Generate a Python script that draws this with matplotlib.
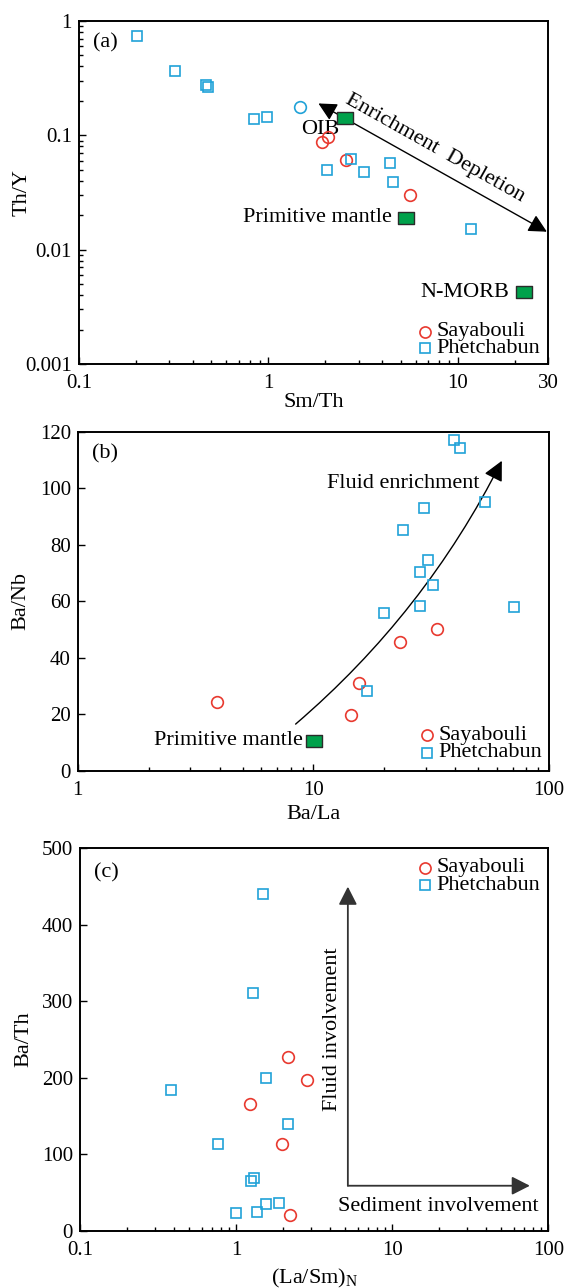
import numpy as np
import matplotlib
matplotlib.use("Agg")
import matplotlib.pyplot as plt
from matplotlib.path import Path


### Fonts ###
plt.rcParams['font.family'] = ['Liberation Serif', 'DejaVu Serif']
plt.rcParams['mathtext.fontset'] = 'custom'
plt.rcParams['mathtext.rm'] = 'Liberation Serif'


### Data ###
# (a) Sm/Th vs Th/Y
a_say_x = [1.92, 2.06, 2.58, 5.58]
a_say_y = [0.087, 0.096, 0.061, 0.030]
a_phe_x = [0.203, 0.322, 0.469, 0.482, 0.843, 0.981, 2.75, 2.03, 3.21, 4.38, 4.53, 11.7]
a_phe_y = [0.739, 0.367, 0.275, 0.263, 0.139, 0.145, 0.062, 0.050, 0.048, 0.057, 0.039, 0.0153]
a_odd_x = [1.475]            # blue circle
a_odd_y = [0.176]
a_ref_names = ['OIB', 'Primitive mantle', 'N-MORB']
a_ref_x = [2.55, 5.34, 22.5]
a_ref_y = [0.1426, 0.019, 0.00426]
a_trend = [(1.84, 0.19), (29.6, 0.01435)]

# (b) Ba/La vs Ba/Nb
b_say_x = [33.4, 23.2, 15.6, 14.4, 3.90]
b_say_y = [50.3, 45.5, 31.3, 19.7, 24.5]
b_phe_x = [39.3, 42.0, 53.6, 29.4, 23.9, 30.7, 28.2, 32.2, 28.2, 70.8, 19.9, 16.9]
b_phe_y = [117.1, 114.2, 95.1, 93.1, 85.2, 74.8, 70.4, 65.7, 58.5, 58.2, 55.8, 28.3]
b_pm_x = [10.1]
b_pm_y = [10.7]
b_trend = [(8.4, 16.6), (63.0, 109.8)]

# (c) (La/Sm)N vs Ba/Th
c_say_x = [2.15, 2.86, 1.23, 1.96, 2.22]
c_say_y = [227.6, 197.5, 166.2, 113.2, 20.9]
c_phe_x = [1.48, 1.28, 1.55, 0.384, 2.15, 0.768, 1.31, 1.25, 1.56, 1.89, 1.00, 1.36]
c_phe_y = [440.3, 311, 200, 183.6, 139.2, 113.6, 69.6, 64.8, 35.2, 36.5, 23.1, 24.8]
c_corner = (5.19, 59.1)
c_fluid_tip = (5.19, 449.5)
c_sed_tip = (76.0, 59.1)


### Styles ###
RED = '#e8392f'
BLUE = '#20a2d8'
GREEN = '#00a14b'
FS_TICK = 15
FS_TEXT = 16
rect = Path([(-1.45, -1), (1.45, -1), (1.45, 1), (-1.45, 1), (-1.45, -1)],
            [Path.MOVETO, Path.LINETO, Path.LINETO, Path.LINETO, Path.CLOSEPOLY])


def style_axes(ax):
    for s in ax.spines.values():
        s.set_linewidth(1.4)
    ax.tick_params(which='both', direction='in', top=False, right=False,
                   labelsize=FS_TICK, width=1.0)
    ax.tick_params(axis='x', which='both', pad=7)
    ax.tick_params(axis='y', which='both', pad=5)
    ax.tick_params(which='major', length=5)
    ax.tick_params(which='minor', length=3)


def samples(ax, sx, sy, px, py):
    ax.plot(sx, sy, 'o', ms=8.4, mfc='none', mec=RED, mew=1.2, ls='none', zorder=4)
    ax.plot(px, py, 's', ms=7.4, mfc='none', mec=BLUE, mew=1.2, ls='none', zorder=4)


def reference(ax, x, y):
    ax.plot(x, y, marker=rect, ms=12, mfc=GREEN, mec='#2b2b2b', mew=1.0,
            ls='none', zorder=5)


def key(ax, xm, xt, y1, y2):
    # hand-placed legend, tight row spacing like the original
    kw = dict(transform=ax.transAxes, clip_on=False, ls='none', mfc='none', mew=1.2)
    ax.plot([xm], [y1], 'o', ms=8, mec=RED, **kw)
    ax.plot([xm], [y2], 's', ms=7, mec=BLUE, **kw)
    ax.text(xt, y1, 'Sayabouli', transform=ax.transAxes, fontsize=FS_TEXT, va='center')
    ax.text(xt, y2, 'Phetchabun', transform=ax.transAxes, fontsize=FS_TEXT, va='center')


def panel_tag(ax, tag):
    ax.text(0.03, 0.935, tag, transform=ax.transAxes, fontsize=FS_TEXT, va='center')


### Figure ###
fig = plt.figure(figsize=(5.72, 12.88), dpi=100)

# --- (a) ---
ax = fig.add_axes([0.138, 0.7174, 0.820, 0.2663])
ax.set_xscale('log')
ax.set_yscale('log')
ax.set_xlim(0.1, 30)
ax.set_ylim(0.001, 1)
samples(ax, a_say_x, a_say_y, a_phe_x, a_phe_y)
ax.plot(a_odd_x, a_odd_y, 'o', ms=8.4, mfc='none', mec=BLUE, mew=1.2, zorder=4)
reference(ax, a_ref_x, a_ref_y)
ax.annotate(a_ref_names[0], (a_ref_x[0], a_ref_y[0]), xytext=(-18, -8.5),
            textcoords='offset points', ha='center', va='center', fontsize=FS_TEXT)
ax.annotate(a_ref_names[1], (a_ref_x[1], a_ref_y[1]), xytext=(-10, 0),
            textcoords='offset points', ha='right', va='center', fontsize=FS_TEXT)
ax.annotate(a_ref_names[2], (a_ref_x[2], a_ref_y[2]), xytext=(-11, 0),
            textcoords='offset points', ha='right', va='center', fontsize=FS_TEXT)
ax.annotate('', xy=a_trend[1], xytext=a_trend[0],
            arrowprops=dict(arrowstyle='<|-|>,head_length=0.55,head_width=0.28',
                            mutation_scale=20, lw=1.0, color='black',
                            shrinkA=0, shrinkB=0), zorder=3)
p0 = ax.transData.transform(a_trend[0])
p1 = ax.transData.transform(a_trend[1])
ang = np.degrees(np.arctan2(p1[1] - p0[1], p1[0] - p0[0]))
ax.text(7.6, 0.0765, 'Enrichment  Depletion', rotation=ang, rotation_mode='anchor',
        ha='center', va='center', fontsize=FS_TEXT)
ax.set_xticks([0.1, 1, 10, 30], ['0.1', '1', '10', '30'])
ax.set_yticks([0.001, 0.01, 0.1, 1], ['0.001', '0.01', '0.1', '1'])
style_axes(ax)
ax.set_xlabel('Sm/Th', fontsize=FS_TEXT)
ax.set_ylabel('Th/Y', fontsize=FS_TEXT)
ax.xaxis.set_label_coords(0.5, -0.085)
ax.yaxis.set_label_coords(-0.10, 0.5)
key(ax, 0.738, 0.762, 0.094, 0.046)
panel_tag(ax, '(a)')

# --- (b) ---
ax = fig.add_axes([0.136, 0.4014, 0.824, 0.2632])
ax.set_xscale('log')
ax.set_xlim(1, 100)
ax.set_ylim(0, 120)
samples(ax, b_say_x, b_say_y, b_phe_x, b_phe_y)
reference(ax, b_pm_x, b_pm_y)
ax.annotate('Primitive mantle', (b_pm_x[0], b_pm_y[0]), xytext=(-8.4, 0),
            textcoords='offset points', ha='right', va='center', fontsize=FS_TEXT)
ax.annotate('', xy=b_trend[1], xytext=b_trend[0],
            arrowprops=dict(arrowstyle='-|>,head_length=0.6,head_width=0.3',
                            connectionstyle='arc3,rad=0.1', mutation_scale=20,
                            lw=1.0, color='black', shrinkA=0, shrinkB=0))
ax.text(24.0, 101.8, 'Fluid enrichment', ha='center', va='center', fontsize=FS_TEXT)
ax.set_xticks([1, 10, 100], ['1', '10', '100'])
ax.set_yticks(np.arange(0, 121, 20))
style_axes(ax)
ax.set_xlabel('Ba/La', fontsize=FS_TEXT)
ax.set_ylabel('Ba/Nb', fontsize=FS_TEXT)
ax.xaxis.set_label_coords(0.5, -0.1)
ax.yaxis.set_label_coords(-0.10, 0.5)
key(ax, 0.741, 0.765, 0.106, 0.054)
panel_tag(ax, '(b)')

# --- (c) ---
ax = fig.add_axes([0.1399, 0.04425, 0.819, 0.2974])
ax.set_xscale('log')
ax.set_xlim(0.1, 100)
ax.set_ylim(0, 500)
samples(ax, c_say_x, c_say_y, c_phe_x, c_phe_y)
arrow_kw = dict(arrowstyle='-|>,head_length=0.55,head_width=0.28', mutation_scale=20,
                lw=1.3, color='#333333', shrinkA=0, shrinkB=0)
ax.annotate('', xy=c_fluid_tip, xytext=c_corner, arrowprops=arrow_kw)
ax.annotate('', xy=c_sed_tip, xytext=c_corner, arrowprops=arrow_kw)
ax.text(4.16, 263.7, 'Fluid involvement', rotation=90, ha='center', va='center',
        fontsize=FS_TEXT)
ax.text(19.6, 31.7, 'Sediment involvement', ha='center', va='center', fontsize=FS_TEXT)
ax.set_xticks([0.1, 1, 10, 100], ['0.1', '1', '10', '100'])
ax.set_yticks(np.arange(0, 501, 100))
style_axes(ax)
ax.set_xlabel(r'(La/Sm)$_\mathregular{N}$', fontsize=FS_TEXT)
ax.set_ylabel('Ba/Th', fontsize=FS_TEXT)
ax.xaxis.set_label_coords(0.5, -0.094)
ax.yaxis.set_label_coords(-0.10, 0.5)
key(ax, 0.737, 0.761, 0.9486, 0.903)
panel_tag(ax, '(c)')

fig.savefig('out.png', dpi=100)
